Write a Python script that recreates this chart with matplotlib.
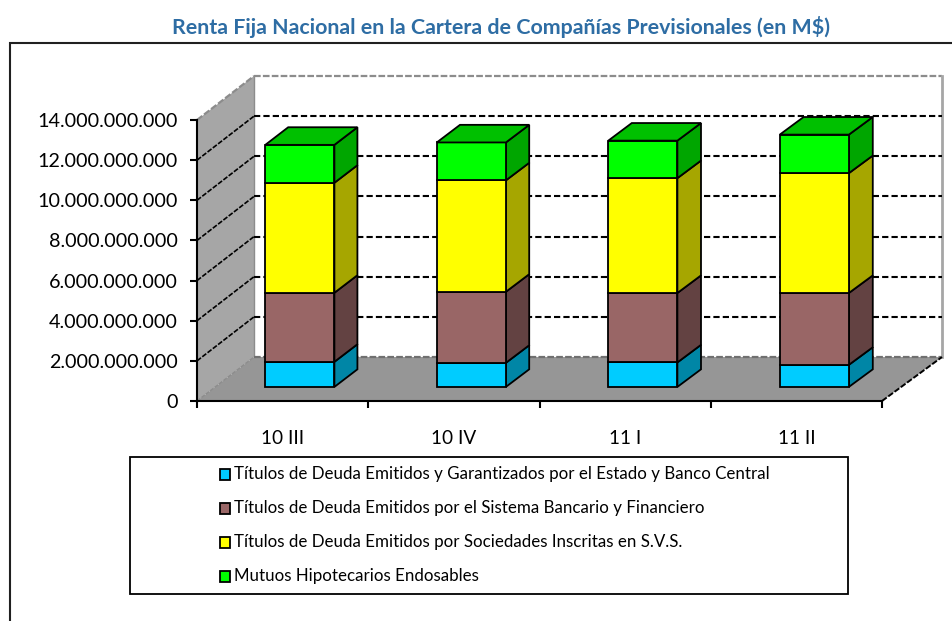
import matplotlib
matplotlib.use('Agg')
import matplotlib.pyplot as plt
from matplotlib.patches import Polygon, Rectangle

plt.rcParams['font.family'] = ['Lato', 'DejaVu Sans']

# datos
periodos = ['10 III', '10 IV', '11 I', '11 II']
estado = [1.25e9, 1.20e9, 1.22e9, 1.10e9]
bancario = [3.44e9, 3.54e9, 3.46e9, 3.58e9]
sociedades = [5.48e9, 5.55e9, 5.72e9, 5.97e9]
mutuos = [1.89e9, 1.89e9, 1.87e9, 1.92e9]
series = [estado, bancario, sociedades, mutuos]

nombres = ['Títulos de Deuda Emitidos y Garantizados por el Estado y Banco Central',
           'Títulos de Deuda Emitidos por el Sistema Bancario y Financiero',
           'Títulos de Deuda Emitidos por Sociedades Inscritas en S.V.S.',
           'Mutuos Hipotecarios Endosables']
colores = ['#00CCFF', '#996666', '#FFFF00', '#00FF00']
laterales = ['#0086A6', '#634242', '#A6A600', '#00A600']
techo = '#00C000'
y_ticks = [0, 2e9, 4e9, 6e9, 8e9, 10e9, 12e9, 14e9]

W, H = 952, 621
fig = plt.figure(figsize=(W / 100, H / 100), dpi=100)
ax = fig.add_axes([197 / W, 1 - 401 / H, 685 / W, 281 / H])
ax.set_xlim(0, 4)
ax.set_ylim(0, 14e9)
ax.patch.set_visible(False)

# proyeccion oblicua: d=0 plano frontal, d=1 pared del fondo
px_x = 4 / 685
px_y = 14e9 / 281


def p(x, y, d=0.0):
    # el fondo es un poco mas ancho que el frente
    return (x + d * (57 + 0.75 * x) * px_x, y + d * 44 * px_y)


def cara(puntos, color, borde='black', lw=1.3, z=2):
    ax.add_patch(Polygon(puntos, closed=True, facecolor=color, edgecolor=borde,
                         linewidth=lw, clip_on=False, zorder=z))


def linea(a, b, color, lw, ls='-', z=1):
    ax.plot(*zip(a, b), color=color, lw=lw, ls=ls, clip_on=False, zorder=z)


# pared izquierda, piso y fondo
cara([p(0, 0), p(0, 0, 1), p(0, 14e9, 1), p(0, 14e9)], '#A6A6A6', 'none', 0, 1)
cara([p(0, 0), p(4, 0), p(4, 0, 1), p(0, 0, 1)], '#969696', 'none', 0, 1)
gris = (0, (3, 1))
linea(p(0, 14e9), p(0, 14e9, 1), '#8C8C8C', 1.6, gris, 1.2)
linea(p(0, 14e9, 1), p(4, 14e9, 1), '#8C8C8C', 1.6, gris, 1.2)
linea(p(0, 0, 1), p(0, 14e9, 1), '#8C8C8C', 1.0, '-', 1.2)
linea(p(0, 0, 1), p(4, 0, 1), '#707070', 1.6, gris, 1.2)
linea(p(4, 0, 1), p(4, 14e9, 1), '#A6A6A6', 2, '-', 1.2)
linea(p(4, 0), p(4, 0, 1), 'black', 1.4, gris, 1.2)
linea(p(0, 0), p(0, 0, 1), '#8C8C8C', 1.0, gris, 1.2)

# lineas de grilla punteadas
for v in y_ticks[1:-1]:
    linea(p(0, v), p(0, v, 1), 'black', 1.2, gris, 1.5)
    linea(p(0, v, 1), p(4, v, 1), 'black', 1.5, (0, (3, 1.5)), 1.5)

# barras
ancho = 69 * px_x
for i in range(len(periodos)):
    x0 = i + 50 * px_x
    x1 = x0 + ancho
    d0, d1 = 0.32, 0.72
    base = 0
    for s in range(len(series)):
        tope = base + series[s][i]
        cara([p(x1, base, d0), p(x1, base, d1), p(x1, tope, d1), p(x1, tope, d0)], laterales[s], z=3)
        cara([p(x0, base, d0), p(x1, base, d0), p(x1, tope, d0), p(x0, tope, d0)], colores[s], z=4)
        base = tope
    cara([p(x0, base, d0), p(x1, base, d0), p(x1, base, d1), p(x0, base, d1)], techo, z=4)

ax.set_xticks(range(5))
ax.set_xticklabels([])
for i, nombre in enumerate(periodos):
    ax.text(i + 0.5, -1.86e9, nombre, ha='center', va='center', fontsize=13.7, color='black')
ax.set_yticks(y_ticks)
ax.set_yticklabels(['{:,.0f}'.format(v).replace(',', '.') for v in y_ticks], fontsize=14.2)
ax.tick_params(axis='x', length=5, width=1.5)
ax.tick_params(axis='y', length=5, width=1.5, pad=9)
for lado in ['top', 'right']:
    ax.spines[lado].set_visible(False)
ax.spines['left'].set_linewidth(1.5)
ax.spines['bottom'].set_linewidth(1.5)
ax.spines['left'].set_zorder(6)
ax.spines['bottom'].set_zorder(6)

# marco exterior, titulo y leyenda
fig.add_artist(Rectangle((10 / W, -0.01), 1.1, 1 - 43 / H + 0.01, transform=fig.transFigure,
                         fill=False, edgecolor='#202020', linewidth=1.5))
fig.text(501 / W, 1 - 27 / H, 'Renta Fija Nacional en la Cartera de Compañías Previsionales (en M$)',
         ha='center', va='center', fontsize=15.4, fontweight='bold', color='#2E6DA4')

fig.add_artist(Rectangle((130 / W, 1 - 594 / H), (848 - 130) / W, (594 - 457) / H,
                         transform=fig.transFigure, facecolor='white', edgecolor='black', linewidth=1.3))
for i, nombre in enumerate(nombres):
    yc = 474 + i * 34
    fig.add_artist(Rectangle((220 / W, 1 - (yc + 5.5) / H), 10 / W, 11 / H, transform=fig.transFigure,
                             facecolor=colores[i], edgecolor='black', linewidth=1.3))
    fig.text(234 / W, 1 - yc / H, nombre, ha='left', va='center', fontsize=12.2, color='black')

fig.savefig('out.png', dpi=100)
